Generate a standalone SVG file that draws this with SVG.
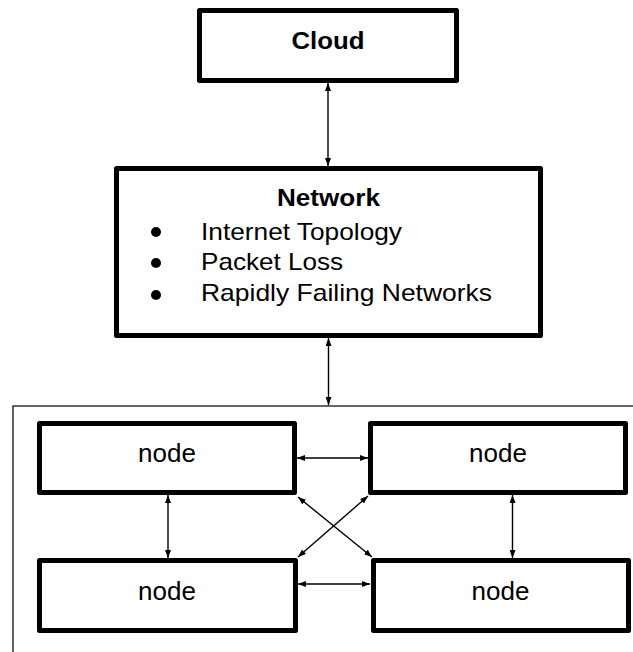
<svg xmlns="http://www.w3.org/2000/svg" width="633" height="652" viewBox="0 0 633 652">
  <style>
    .box { fill: #ffffff; stroke: #000000; stroke-width: 5; stroke-linejoin: round; }
    .lbl { font-family: "Liberation Sans", Arial, sans-serif; fill: #000000; }
    .bold { font-weight: bold; }
    .conn { stroke: #000000; stroke-width: 1.4; fill: none; marker-start: url(#ah); marker-end: url(#ah); }
    .frame { stroke: #333333; stroke-width: 1.5; fill: none; }
  </style>
  <defs>
    <marker id="ah" viewBox="0 0 8 6" refX="8" refY="3" markerWidth="8" markerHeight="6" markerUnits="userSpaceOnUse" orient="auto-start-reverse">
      <path d="M0,0 L8,3 L0,6 Z" fill="#000000"/>
    </marker>
  </defs>
  <rect width="633" height="652" fill="#ffffff"/>

  <g id="container">
    <path class="frame" d="M13,652 V406 H633"/>
  </g>

  <g id="cloud">
    <rect class="box" x="199.5" y="10.5" width="257" height="70"/>
    <text class="lbl bold" x="328" y="49" font-size="24" text-anchor="middle" textLength="73" lengthAdjust="spacingAndGlyphs">Cloud</text>
  </g>

  <g id="network">
    <rect class="box" x="116.5" y="168.5" width="424" height="167"/>
    <text class="lbl bold" x="328.5" y="206" font-size="23" text-anchor="middle" textLength="103" lengthAdjust="spacingAndGlyphs">Network</text>
    <circle cx="156" cy="232" r="5"/>
    <circle cx="156" cy="263" r="5"/>
    <circle cx="156" cy="295" r="5"/>
    <text class="lbl" x="201" y="240" font-size="24" textLength="201" lengthAdjust="spacingAndGlyphs">Internet Topology</text>
    <text class="lbl" x="201" y="270" font-size="24" textLength="142" lengthAdjust="spacingAndGlyphs">Packet Loss</text>
    <text class="lbl" x="201" y="301" font-size="24" textLength="291" lengthAdjust="spacingAndGlyphs">Rapidly Failing Networks</text>
  </g>

  <g id="node-top-left">
    <rect class="box" x="39.5" y="423.5" width="255" height="69"/>
    <text class="lbl" x="167" y="462" font-size="26" text-anchor="middle">node</text>
  </g>
  <g id="node-top-right">
    <rect class="box" x="370.5" y="423.5" width="255" height="69"/>
    <text class="lbl" x="498" y="462" font-size="26" text-anchor="middle">node</text>
  </g>
  <g id="node-bottom-left">
    <rect class="box" x="39.5" y="560.5" width="256" height="70"/>
    <text class="lbl" x="167" y="600" font-size="26" text-anchor="middle">node</text>
  </g>
  <g id="node-bottom-right">
    <rect class="box" x="373.5" y="560.5" width="255" height="70"/>
    <text class="lbl" x="500.5" y="600" font-size="26" text-anchor="middle">node</text>
  </g>

  <g id="connectors">
    <line class="conn" x1="328" y1="83" x2="328" y2="166"/>
    <line class="conn" x1="328.5" y1="338" x2="328.5" y2="405"/>
    <line class="conn" x1="297" y1="458" x2="368" y2="458"/>
    <line class="conn" x1="298" y1="584" x2="370" y2="584"/>
    <line class="conn" x1="168" y1="495" x2="168" y2="558"/>
    <line class="conn" x1="512.5" y1="495" x2="512.5" y2="558"/>
    <line class="conn" x1="298" y1="497" x2="372" y2="557"/>
    <line class="conn" x1="298" y1="557" x2="368" y2="496"/>
  </g>
</svg>
